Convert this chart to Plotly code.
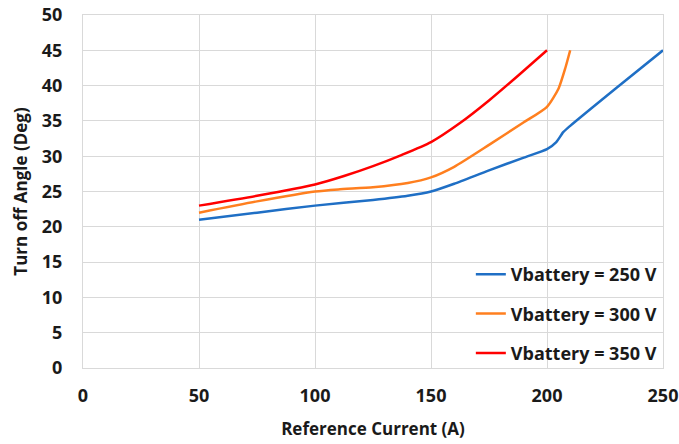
import plotly.graph_objects as go

# Reference current (A) and turn-off angle (deg) for each battery voltage
current_250 = [50, 75, 100, 125, 140, 150, 160, 175, 190, 200, 204, 207, 210, 230, 250]
angle_250 = [21, 22, 23, 23.8, 24.4, 25, 26.1, 28, 29.8, 31, 32, 33.4, 34.3, 39.7, 45]

current_300 = [50, 75, 100, 110, 125, 140, 150, 160, 175, 190, 200, 205, 208, 210]
angle_300 = [22, 23.6, 25, 25.3, 25.6, 26.2, 27, 28.5, 31.6, 34.8, 37, 39.6, 42.6, 45]

current_350 = [50, 75, 100, 112.5, 125, 137.5, 150, 162.5, 175, 187.5, 200]
angle_350 = [23, 24.4, 26, 27.2, 28.6, 30.2, 32, 34.7, 37.9, 41.4, 45]

names = ["Vbattery = 250 V", "Vbattery = 300 V", "Vbattery = 350 V"]
colors = ["#1f6fc5", "#ff7f1f", "#ff0000"]
series = [(current_250, angle_250), (current_300, angle_300), (current_350, angle_350)]

font_family = "'Open Sans', Lato, sans-serif"
grid = "#d9d9d9"

fig = go.Figure()
for (x, y), name, color in zip(series, names, colors):
    fig.add_trace(go.Scatter(
        x=x, y=y, name=name, mode="lines",
        line=dict(color=color, width=2.5, shape="spline", smoothing=0.6),
        legendgroup=name,
    ))

fig.update_layout(
    width=679, height=444,
    margin=dict(l=83, r=16, t=15, b=76, autoexpand=False),
    paper_bgcolor="white", plot_bgcolor="white",
    font=dict(family=font_family, color="#1a1a1a", size=17, weight="bold"),
    showlegend=True,
    legend=dict(
        x=0.998, y=0.153, xanchor="right", yanchor="middle",
        bgcolor="rgba(0,0,0,0)",
        font=dict(size=18, family=font_family, weight="bold"),
        traceorder="grouped", tracegroupgap=13,
        itemwidth=30,
    ),
    xaxis=dict(
        range=[0, 250], tickvals=[0, 50, 100, 150, 200, 250],
        showgrid=True, gridcolor=grid, gridwidth=1,
        showline=True, linecolor=grid, linewidth=1, mirror=True,
        zeroline=False, ticks="", ticklabelstandoff=11, automargin=False,
        tickfont=dict(size=18, family=font_family, weight="bold"),
        title=dict(text="Reference Current (A)", standoff=17,
                   font=dict(size=17, family=font_family, weight="bold")),
    ),
    yaxis=dict(
        range=[0, 50], tickvals=list(range(0, 51, 5)),
        showgrid=True, gridcolor=grid, gridwidth=1,
        showline=True, linecolor=grid, linewidth=1, mirror=True,
        zeroline=False, ticks="", ticklabelstandoff=16, automargin=False,
        tickfont=dict(size=18, family=font_family, weight="bold"),
        title=dict(text="Turn off Angle (Deg)", standoff=9,
                   font=dict(size=17, family=font_family, weight="bold")),
    ),
)

fig.write_html("out.html")
